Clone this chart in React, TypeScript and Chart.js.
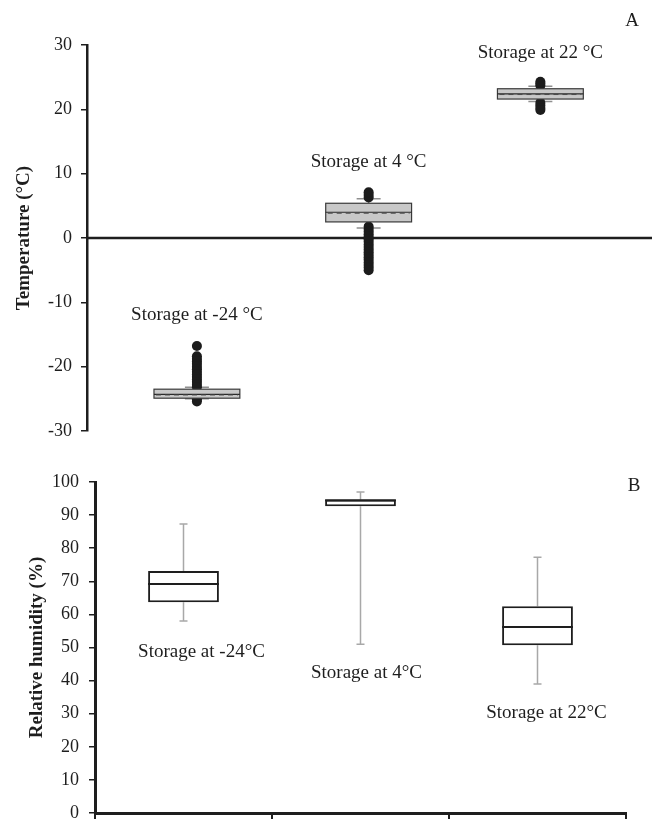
import React, { useEffect, useRef } from 'react';
import { Chart, registerables } from 'chart.js';

Chart.register(...registerables);

// ---------- Panel A: temperature ----------
const tempCategories = ['Storage at -24 °C', 'Storage at 4 °C', 'Storage at 22 °C'];
const tempQ1 = [-24.9, 2.5, 21.6];
const tempQ3 = [-23.5, 5.4, 23.2];
const tempMedian = [-24.3, 4.0, 22.4];
const tempMean = [-24.4, 3.85, 22.3];
const tempWhiskerLow = [-25.0, 1.55, 21.2];
const tempWhiskerHigh = [-23.2, 6.1, 23.6];
const tempOutliersMinus24 = [-16.8, -18.4, -18.8, -19.2, -19.6, -20.0, -20.4, -20.8, -21.2, -21.6, -22.0, -22.4, -22.8, -23.2, -25.1, -25.4];
const tempOutliers4 = [6.3, 6.7, 7.1, 1.8, 1.4, 1.0, 0.6, 0.2, -0.2, -0.6, -1.0, -1.4, -1.8, -2.2, -2.6, -3.0, -3.4, -3.8, -4.2, -4.6, -5.0];
const tempOutliers22 = [23.7, 24.0, 24.3, 21.0, 20.6, 20.2, 19.9];
const tempTicks = [-30, -20, -10, 0, 10, 20, 30];
const tempLabelY = [-12.0, 11.8, 28.8];

// ---------- Panel B: relative humidity ----------
const rhCategories = ['Storage at -24°C', 'Storage at 4°C', 'Storage at 22°C'];
const rhQ1 = [63.7, 92.7, 50.7];
const rhQ3 = [73.1, 94.6, 62.5];
const rhMedian = [69.2, 94.5, 56.2];
const rhWhiskerLow = [58.0, 51.0, 39.0];
const rhWhiskerHigh = [87.3, 97.0, 77.3];
const rhTicks = [0, 10, 20, 30, 40, 50, 60, 70, 80, 90, 100];
const rhLabelY = [48.6, 42.3, 30.2];

// layout-only constants
const rhLabelDx = [18, 6, 9];
const SERIF = '"Liberation Serif", "Times New Roman", serif';
const INK = '#1e1e1e';

const tempPlugin = {
  id: 'tempBoxes',
  beforeDatasetsDraw(chart: any) {
    const { ctx, chartArea, scales } = chart;
    const x = scales.x, y = scales.y;
    ctx.save();
    const y0 = y.getPixelForValue(0);
    ctx.strokeStyle = INK;
    ctx.lineWidth = 2.5;
    ctx.beginPath();
    ctx.moveTo(chartArea.left, y0);
    ctx.lineTo(chartArea.right, y0);
    ctx.stroke();
    ctx.strokeStyle = '#8f8f8f';
    ctx.lineWidth = 1.5;
    tempCategories.forEach((_, i) => {
      const cx = x.getPixelForValue(i + 1);
      const lo = y.getPixelForValue(tempWhiskerLow[i]);
      const hi = y.getPixelForValue(tempWhiskerHigh[i]);
      const q1 = y.getPixelForValue(tempQ1[i]);
      const q3 = y.getPixelForValue(tempQ3[i]);
      ctx.beginPath();
      ctx.moveTo(cx, lo); ctx.lineTo(cx, q1);
      ctx.moveTo(cx, hi); ctx.lineTo(cx, q3);
      ctx.moveTo(cx - 12, lo); ctx.lineTo(cx + 12, lo);
      ctx.moveTo(cx - 12, hi); ctx.lineTo(cx + 12, hi);
      ctx.stroke();
    });
    ctx.restore();
  },
  afterDatasetsDraw(chart: any) {
    const { ctx, scales } = chart;
    const x = scales.x, y = scales.y;
    ctx.save();
    tempCategories.forEach((_, i) => {
      const left = x.getPixelForValue(i + 1 - 0.25);
      const right = x.getPixelForValue(i + 1 + 0.25);
      const top = y.getPixelForValue(tempQ3[i]);
      const bottom = y.getPixelForValue(tempQ1[i]);
      ctx.fillStyle = '#c8c8c8';
      ctx.fillRect(left, top, right - left, bottom - top);
      ctx.strokeStyle = '#3a3a3a';
      ctx.lineWidth = 1.2;
      ctx.strokeRect(left, top, right - left, bottom - top);
      const med = y.getPixelForValue(tempMedian[i]);
      ctx.setLineDash([]);
      ctx.strokeStyle = '#2a2a2a';
      ctx.beginPath(); ctx.moveTo(left, med); ctx.lineTo(right, med); ctx.stroke();
      const mean = y.getPixelForValue(tempMean[i]);
      ctx.setLineDash([5, 4]);
      ctx.strokeStyle = '#4a4a4a';
      ctx.lineWidth = 1;
      ctx.beginPath(); ctx.moveTo(left + 2, mean); ctx.lineTo(right - 2, mean); ctx.stroke();
      ctx.setLineDash([]);
    });
    ctx.restore();
  },
  afterDraw(chart: any) {
    const { ctx, chartArea, scales } = chart;
    const x = scales.x, y = scales.y;
    ctx.save();
    ctx.fillStyle = INK;
    ctx.font = `19px ${SERIF}`;
    ctx.textAlign = 'center';
    ctx.textBaseline = 'middle';
    tempCategories.forEach((label, i) => {
      ctx.fillText(label, x.getPixelForValue(i + 1), y.getPixelForValue(tempLabelY[i]));
    });
    ctx.fillText('A', chartArea.right - 20, chartArea.top - 24);
    ctx.translate(24, (chartArea.top + chartArea.bottom) / 2);
    ctx.rotate(-Math.PI / 2);
    ctx.font = `bold 19px ${SERIF}`;
    ctx.fillText('Temperature (°C)', 0, 0);
    ctx.restore();
  },
};

const rhPlugin = {
  id: 'rhBoxes',
  beforeDatasetsDraw(chart: any) {
    const { ctx, scales } = chart;
    const y = scales.y;
    const meta = chart.getDatasetMeta(0);
    ctx.save();
    ctx.strokeStyle = '#a8a8a8';
    ctx.lineWidth = 1.5;
    rhCategories.forEach((_, i) => {
      const cx = meta.data[i].x;
      const lo = y.getPixelForValue(rhWhiskerLow[i]);
      const hi = y.getPixelForValue(rhWhiskerHigh[i]);
      const q1 = y.getPixelForValue(rhQ1[i]);
      const q3 = y.getPixelForValue(rhQ3[i]);
      ctx.beginPath();
      ctx.moveTo(cx, lo); ctx.lineTo(cx, q1);
      ctx.moveTo(cx, hi); ctx.lineTo(cx, q3);
      ctx.moveTo(cx - 4, lo); ctx.lineTo(cx + 4, lo);
      ctx.moveTo(cx - 4, hi); ctx.lineTo(cx + 4, hi);
      ctx.stroke();
    });
    ctx.restore();
  },
  afterDatasetsDraw(chart: any) {
    const { ctx, scales } = chart;
    const y = scales.y;
    const meta = chart.getDatasetMeta(0);
    ctx.save();
    ctx.strokeStyle = INK;
    ctx.lineWidth = 2;
    rhCategories.forEach((_, i) => {
      const bar = meta.data[i];
      const m = y.getPixelForValue(rhMedian[i]);
      ctx.beginPath();
      ctx.moveTo(bar.x - bar.width / 2, m);
      ctx.lineTo(bar.x + bar.width / 2, m);
      ctx.stroke();
    });
    ctx.restore();
  },
  afterDraw(chart: any) {
    const { ctx, chartArea, scales } = chart;
    const y = scales.y;
    const meta = chart.getDatasetMeta(0);
    ctx.save();
    ctx.fillStyle = INK;
    ctx.font = `19px ${SERIF}`;
    ctx.textAlign = 'center';
    ctx.textBaseline = 'middle';
    rhCategories.forEach((label, i) => {
      ctx.fillText(label, meta.data[i].x + rhLabelDx[i], y.getPixelForValue(rhLabelY[i]));
    });
    ctx.fillText('B', chartArea.right + 8, chartArea.top + 4);
    ctx.translate(37, (chartArea.top + chartArea.bottom) / 2);
    ctx.rotate(-Math.PI / 2);
    ctx.font = `bold 19px ${SERIF}`;
    ctx.fillText('Relative humidity (%)', 0, 0);
    ctx.restore();
  },
};

function TempChart() {
  const ref = useRef<HTMLCanvasElement>(null);
  useEffect(() => {
    if (!ref.current) return;
    const outlierSets = [tempOutliersMinus24, tempOutliers4, tempOutliers22];
    const chart = new Chart(ref.current, {
      type: 'scatter',
      data: {
        datasets: outlierSets.map((vals, i) => ({
          label: tempCategories[i],
          data: vals.map((v) => ({ x: i + 1, y: v })),
          pointRadius: 5,
          pointBackgroundColor: '#1c1c1c',
          pointBorderWidth: 0,
          pointHoverRadius: 5,
        })),
      },
      options: {
        animation: false,
        responsive: false,
        events: [],
        layout: { padding: { top: 45, bottom: 9, left: 0, right: 7 } },
        plugins: { legend: { display: false }, tooltip: { enabled: false } },
        scales: {
          x: { type: 'linear', min: 0.36, max: 3.65, display: false },
          y: {
            min: -30,
            max: 30,
            afterBuildTicks: (s: any) => { s.ticks = tempTicks.map((v) => ({ value: v })); },
            afterFit: (s: any) => { s.width = 87; s.paddingTop = 0; s.paddingBottom = 0; },
            ticks: { font: { family: SERIF, size: 18 }, color: INK, padding: 9 },
            grid: { drawOnChartArea: false, drawTicks: true, tickLength: 6, color: INK, lineWidth: 1.5 },
            border: { display: true, color: INK, width: 2.5 },
          },
        },
      },
      plugins: [tempPlugin],
    } as any);
    return () => chart.destroy();
  }, []);
  return <canvas ref={ref} width={659} height={440} style={{ position: 'absolute', left: 0, top: 0, width: 659, height: 440 }} />;
}

function RhChart() {
  const ref = useRef<HTMLCanvasElement>(null);
  useEffect(() => {
    if (!ref.current) return;
    const chart = new Chart(ref.current, {
      type: 'bar',
      data: {
        labels: rhCategories,
        datasets: [
          {
            label: 'Relative humidity',
            data: rhQ1.map((q, i) => [q, rhQ3[i]]),
            backgroundColor: '#ffffff',
            borderColor: INK,
            borderWidth: 2,
            borderSkipped: false,
            barPercentage: 0.4,
            categoryPercentage: 1,
          },
        ],
      },
      options: {
        animation: false,
        responsive: false,
        events: [],
        layout: { padding: { top: 42, bottom: 0, left: 0, right: 33 } },
        plugins: { legend: { display: false }, tooltip: { enabled: false } },
        scales: {
          x: {
            type: 'category',
            offset: true,
            afterFit: (s: any) => { s.height = 8; s.paddingLeft = 0; s.paddingRight = 0; },
            ticks: { display: false },
            grid: { offset: true, drawOnChartArea: false, drawTicks: true, tickLength: 6, color: INK, lineWidth: 2 },
            border: { display: true, color: INK, width: 3 },
          },
          y: {
            min: 0,
            max: 100,
            afterBuildTicks: (s: any) => { s.ticks = rhTicks.map((v) => ({ value: v })); },
            afterFit: (s: any) => { s.width = 95; s.paddingTop = 0; s.paddingBottom = 0; },
            ticks: { font: { family: SERIF, size: 18 }, color: INK, padding: 10 },
            grid: { drawOnChartArea: false, drawTicks: true, tickLength: 6, color: INK, lineWidth: 1.5 },
            border: { display: true, color: INK, width: 3 },
          },
        },
      },
      plugins: [rhPlugin],
    } as any);
    return () => chart.destroy();
  }, []);
  return <canvas ref={ref} width={659} height={381} style={{ position: 'absolute', left: 0, top: 440, width: 659, height: 381 }} />;
}

export default function App() {
  return (
    <div style={{ position: 'fixed', left: 0, top: 0, width: 659, height: 821, background: '#ffffff' }}>
      <TempChart />
      <RhChart />
    </div>
  );
}
